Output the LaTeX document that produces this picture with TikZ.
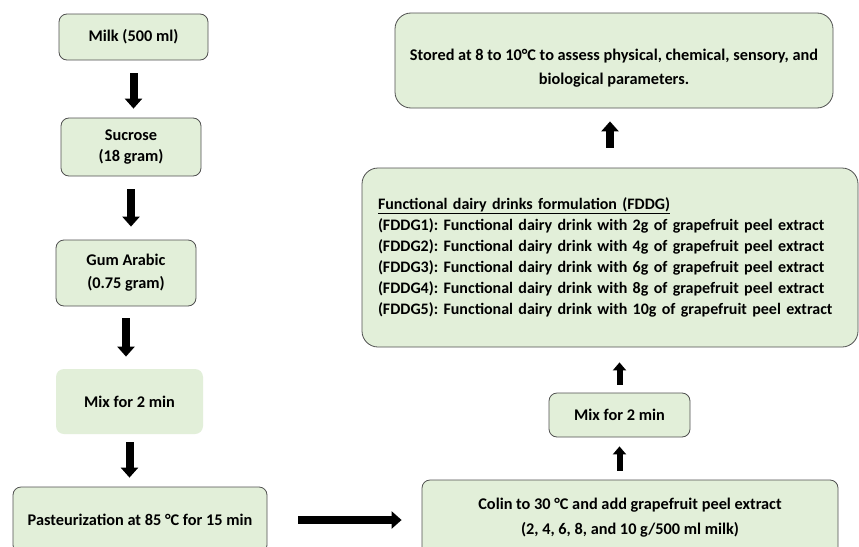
\documentclass[tikz,border=0pt]{standalone}
\usepackage{fontspec}
\setmainfont{Carlito}
\usetikzlibrary{arrows.meta}
\definecolor{boxfill}{HTML}{E2EFD9}
\definecolor{boxline}{HTML}{505050}
\frenchspacing
\begin{document}
\begin{tikzpicture}[x=1pt,y=-1pt,
  box/.style={draw=boxline, line width=0.8pt, fill=boxfill, rounded corners=8pt, align=center, inner sep=0pt, font=\fontsize{16.3}{21}\selectfont\bfseries},
  plainbox/.style={box, draw=none},
  bigbox/.style={box, rounded corners=16pt},
  bigarrow/.style={line width=8pt, -{Triangle[width=17pt,length=10pt]}},
  smallarrow/.style={line width=6pt, -{Triangle[width=13pt,length=8pt]}}]
\useasboundingbox (0,0) rectangle (859,546);
\clip (0,0) rectangle (859,546);
\fill[white] (0,0) rectangle (859,546);
% left column
\node[box, minimum width=149pt, minimum height=46pt] (milk) at (133.5,37) {Milk (500 ml)};
\node[box, minimum width=140pt, minimum height=58pt] (sucrose) at (131,147) {Sucrose\\(18 gram)};
\node[box, minimum width=140pt, minimum height=66pt, font=\fontsize{16.3}{23}\selectfont\bfseries] (gum) at (126,273) {Gum Arabic\\(0.75 gram)};
\node[plainbox, minimum width=147pt, minimum height=65pt] (mixa) at (129.5,401.5) {Mix for 2 min};
\node[box, minimum width=254pt, minimum height=66pt] (past) at (140,520) {Pasteurization at 85 °C for 15 min};
% right column
\node[box, minimum width=416pt, minimum height=76pt, font=\fontsize{16.3}{25}\selectfont\bfseries] (colin) at (630,518) {Colin to 30 °C and add grapefruit peel extract\\(2, 4, 6, 8, and 10 g/500 ml milk)};
\node[box, minimum width=141pt, minimum height=44pt] (mixb) at (619.5,415) {Mix for 2 min};
\node[bigbox, minimum width=496pt, minimum height=179pt, text width=464pt, align=left, font=\fontsize{16}{21}\selectfont\bfseries] (fddg) at (610,257.5) {\underline{Functional dairy drinks formulation (FDDG)}\\
(FDDG1): Functional dairy drink with 2g of grapefruit peel extract\\
(FDDG2): Functional dairy drink with 4g of grapefruit peel extract\\
(FDDG3): Functional dairy drink with 6g of grapefruit peel extract\\
(FDDG4): Functional dairy drink with 8g of grapefruit peel extract\\
(FDDG5): Functional dairy drink with 10g of grapefruit peel extract};
\node[bigbox, minimum width=438pt, minimum height=95pt] (stored) at (614,60.5) {};
\node[font=\fontsize{16.3}{24}\selectfont\bfseries, align=center, inner sep=0pt] (storedtext) at ([yshift=-8pt]stored.center) {Stored at 8 to 10°C to assess physical, chemical, sensory, and\\biological parameters.};
% arrows
\draw[bigarrow, shorten <=13pt, shorten >=9pt] (milk.south) -- (milk.south |- sucrose.north);
\draw[bigarrow, shorten <=13pt, shorten >=13pt] (sucrose.south) -- (sucrose.south |- gum.north);
\draw[bigarrow, shorten <=12pt, shorten >=12pt] (gum.south) -- (gum.south |- mixa.north);
\draw[bigarrow, shorten <=8pt, shorten >=9pt] (mixa.south) -- (mixa.south |- past.north);
\draw[bigarrow, shorten <=31pt, shorten >=20pt] (past.east) -- (past.east -| colin.west);
\draw[smallarrow, shorten <=9pt, shorten >=9pt] (colin.north -| mixb.south) -- (mixb.south);
\draw[smallarrow, shorten <=8pt, shorten >=15pt] (mixb.north) -- (mixb.north |- fddg.south);
\draw[bigarrow, shorten <=20pt, shorten >=13pt] (fddg.north) -- (fddg.north |- stored.south);
\end{tikzpicture}
\end{document}
